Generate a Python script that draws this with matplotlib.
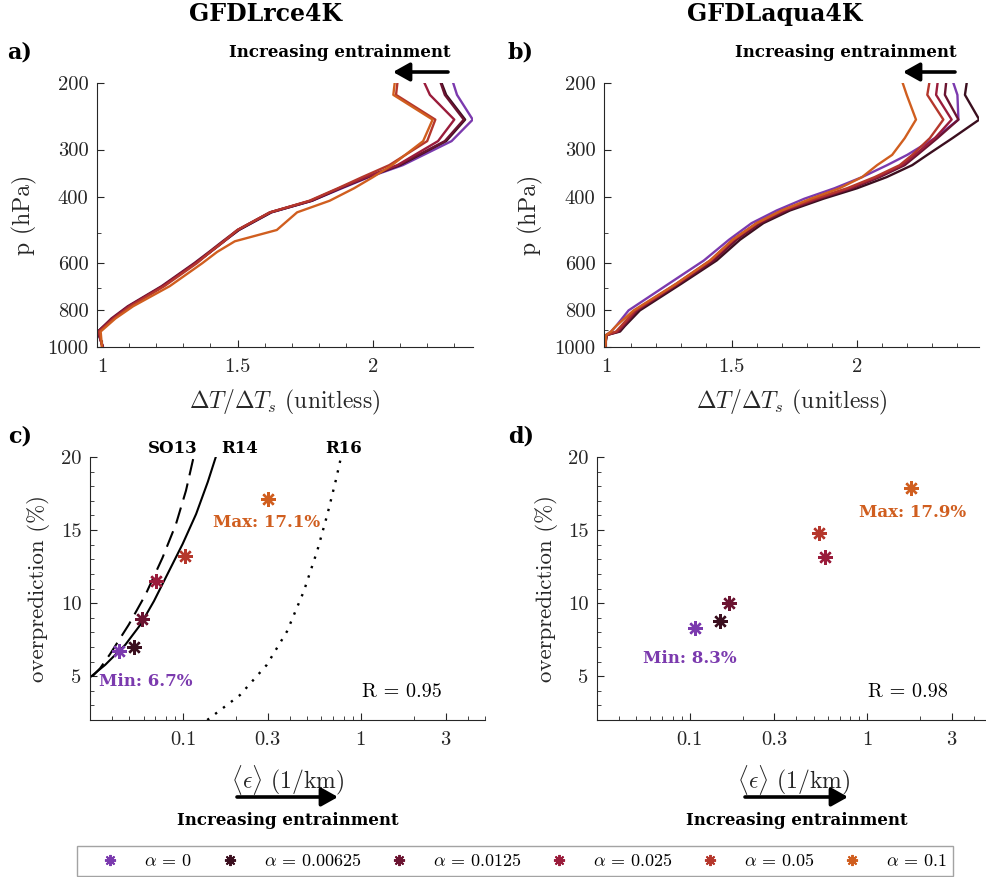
import matplotlib.pyplot as plt
from matplotlib.lines import Line2D
from matplotlib.ticker import FixedLocator, FixedFormatter, NullFormatter, MultipleLocator, LogLocator

# =========================
# Fonts
# =========================
plt.rcParams['font.family'] = 'serif'
plt.rcParams['font.serif'] = ['cmr10']
plt.rcParams['mathtext.fontset'] = 'cm'
plt.rcParams['axes.formatter.use_mathtext'] = True
plt.rcParams['axes.unicode_minus'] = False

W, H = 987, 877
AX_COLOR = '#262626'
BOLD = 'DejaVu Serif'

# =========================
# Data
# =========================
ALPHAS = ['0', '0.00625', '0.0125', '0.025', '0.05', '0.1']
COLORS = ['#7b3aae', '#3b0f1f', '#6b1431', '#9a1c3b', '#b5372c', '#d05e1f']

# panel a: GFDLrce4K profiles, dT/dTs vs pressure (hPa)
P_RCE = [200, 215, 250, 285, 330, 355, 380, 410, 440, 490, 525, 560, 600, 690, 780, 840, 910, 1000]
RCE_0 = [2.296, 2.31, 2.368, 2.29, 2.11, 1.985, 1.885, 1.775, 1.625, 1.505, 1.45, 1.40, 1.345, 1.225, 1.10, 1.04, 0.985, 1.003]
RCE_00625 = [2.253, 2.27, 2.34, 2.27, 2.10, 1.98, 1.88, 1.775, 1.625, 1.505, 1.45, 1.40, 1.345, 1.225, 1.10, 1.04, 0.985, 1.003]
RCE_0125 = [2.25, 2.265, 2.335, 2.265, 2.095, 1.975, 1.875, 1.77, 1.62, 1.50, 1.445, 1.395, 1.34, 1.22, 1.095, 1.035, 0.985, 1.003]
RCE_025 = [2.19, 2.21, 2.30, 2.24, 2.09, 1.975, 1.875, 1.77, 1.62, 1.50, 1.45, 1.40, 1.345, 1.225, 1.10, 1.04, 0.987, 1.003]
RCE_05 = [2.09, 2.085, 2.23, 2.20, 2.06, 1.96, 1.87, 1.765, 1.62, 1.50, 1.45, 1.40, 1.35, 1.23, 1.105, 1.045, 0.99, 1.0]
RCE_1 = [2.08, 2.075, 2.22, 2.185, 2.07, 2.00, 1.93, 1.84, 1.72, 1.645, 1.49, 1.425, 1.37, 1.25, 1.115, 1.05, 0.995, 1.0]

# panel b: GFDLaqua4K profiles
P_AQUA = [200, 215, 250, 280, 310, 330, 355, 380, 405, 435, 470, 520, 590, 680, 800, 880, 910, 930, 1000]
AQUA_0 = [2.384, 2.40, 2.404, 2.31, 2.20, 2.12, 2.02, 1.91, 1.79, 1.68, 1.58, 1.49, 1.39, 1.25, 1.09, 1.04, 1.02, 1.00, 0.998]
AQUA_00625 = [2.437, 2.43, 2.487, 2.38, 2.28, 2.22, 2.118, 2.0, 1.866, 1.733, 1.627, 1.534, 1.441, 1.30, 1.135, 1.075, 1.056, 1.003, 0.996]
AQUA_0125 = [2.355, 2.35, 2.404, 2.32, 2.24, 2.19, 2.09, 1.98, 1.85, 1.72, 1.615, 1.52, 1.43, 1.29, 1.125, 1.07, 1.05, 1.002, 0.996]
AQUA_025 = [2.321, 2.315, 2.377, 2.31, 2.23, 2.18, 2.08, 1.97, 1.84, 1.71, 1.605, 1.51, 1.42, 1.285, 1.12, 1.065, 1.045, 1.002, 0.996]
AQUA_05 = [2.288, 2.28, 2.344, 2.29, 2.22, 2.17, 2.07, 1.96, 1.83, 1.70, 1.60, 1.505, 1.415, 1.28, 1.115, 1.06, 1.04, 1.0, 0.997]
AQUA_1 = [2.182, 2.198, 2.235, 2.19, 2.14, 2.08, 2.02, 1.93, 1.815, 1.70, 1.60, 1.505, 1.415, 1.28, 1.11, 1.04, 1.02, 1.0, 0.997]

# panels c, d: mean entrainment (1/km) vs overprediction (%)
EPS_RCE = [0.0439, 0.0533, 0.0585, 0.0703, 0.1026, 0.30]
OVER_RCE = [6.7, 7.0, 8.9, 11.5, 13.2, 17.1]
EPS_AQUA = [0.107, 0.149, 0.166, 0.58, 0.537, 1.77]
OVER_AQUA = [8.3, 8.8, 10.0, 13.15, 14.8, 17.9]

# reference curves in panel c
R14_EPS = [0.0288, 0.0365, 0.0474, 0.0577, 0.0687, 0.0818, 0.0996, 0.1186, 0.138, 0.153]
R14_OVER = [4.74, 5.77, 7.15, 8.53, 10.14, 11.98, 14.05, 16.1, 18.3, 20.0]
SO13_EPS = [0.031, 0.0342, 0.039, 0.0496, 0.0617, 0.0767, 0.0913, 0.104, 0.1148]
SO13_OVER = [5.0, 5.54, 6.53, 8.53, 10.6, 13.1, 15.4, 17.7, 20.0]
R16_EPS = [0.137, 0.209, 0.296, 0.385, 0.478, 0.57, 0.65, 0.724, 0.775]
R16_OVER = [2.0, 3.7, 5.77, 8.07, 10.8, 13.6, 16.1, 18.4, 20.0]


def fx(px):
    return px / W


def fy(py):
    return 1 - py / H


def axes_rect(left, top, right, bottom):
    return [fx(left), fy(bottom), (right - left) / W, (bottom - top) / H]


def style_axes(ax):
    for s in ['top', 'right']:
        ax.spines[s].set_visible(False)
    for s in ['left', 'bottom']:
        ax.spines[s].set_color(AX_COLOR)
        ax.spines[s].set_linewidth(0.8)
    ax.tick_params(which='both', direction='in', colors=AX_COLOR, labelsize=14.8,
                   top=False, right=False)
    ax.tick_params(which='major', length=5, width=0.8)
    ax.tick_params(which='minor', length=3, width=0.6)
    ax.tick_params(axis='x', pad=8)
    ax.tick_params(axis='y', pad=6)
    ax.patch.set_visible(False)


def profile_panel(ax, p, profiles, xlim):
    for prof, col in zip(profiles, COLORS):
        ax.plot(prof, p, color=col, lw=1.7)
    ax.set_yscale('log')
    ax.set_ylim(1000, 200)
    ax.set_xlim(*xlim)
    ax.yaxis.set_major_locator(FixedLocator([200, 300, 400, 600, 800, 1000]))
    ax.yaxis.set_major_formatter(FixedFormatter(['200', '300', '400', '600', '800', '1000']))
    ax.yaxis.set_minor_locator(FixedLocator([500, 700, 900]))
    ax.yaxis.set_minor_formatter(NullFormatter())
    ax.xaxis.set_major_locator(FixedLocator([1, 1.5, 2]))
    ax.xaxis.set_major_formatter(FixedFormatter(['1', '1.5', '2']))
    ax.xaxis.set_minor_locator(MultipleLocator(0.1))
    style_axes(ax)
    ax.set_xlabel(r'$\Delta T/\Delta T_s$ (unitless)', fontsize=17, color=AX_COLOR)
    ax.set_ylabel('p (hPa)', fontsize=17, color=AX_COLOR)


def scatter_panel(ax, eps, over):
    for e, o, col in zip(eps, over, COLORS):
        ax.plot([e], [o], linestyle='none', marker=(8, 2, 0), markersize=10.5,
                markeredgewidth=1.7, color=col, zorder=4)
    ax.set_xscale('log')
    ax.set_xlim(0.03, 5)
    ax.set_ylim(2, 20)
    ax.xaxis.set_major_locator(FixedLocator([0.1, 0.3, 1, 3]))
    ax.xaxis.set_major_formatter(FixedFormatter(['0.1', '0.3', '1', '3']))
    ax.xaxis.set_minor_locator(LogLocator(base=10, subs=range(2, 10), numticks=20))
    ax.xaxis.set_minor_formatter(NullFormatter())
    ax.yaxis.set_major_locator(FixedLocator([5, 10, 15, 20]))
    ax.yaxis.set_major_formatter(FixedFormatter(['5', '10', '15', '20']))
    ax.yaxis.set_minor_locator(MultipleLocator(1))
    style_axes(ax)
    ax.set_xlabel(r'$\langle\epsilon\rangle$ (1/km)', fontsize=17, color=AX_COLOR)
    ax.set_ylabel('overprediction (%)', fontsize=16.5, color=AX_COLOR)


def bold_text(fig, px, py, s, size=12, color='black', ha='center', va='baseline'):
    fig.text(fx(px), fy(py), s, ha=ha, va=va, fontsize=size, fontweight='bold',
             family=BOLD, color=color)


def arrow(fig, tail, head):
    fig.add_artist(plt.Annotation(
        '', xy=(fx(head[0]), fy(head[1])), xytext=(fx(tail[0]), fy(tail[1])),
        xycoords='figure fraction', textcoords='figure fraction',
        arrowprops=dict(arrowstyle='-|>,head_length=0.5,head_width=0.28',
                        mutation_scale=20, lw=2.6, color='black',
                        shrinkA=0, shrinkB=0)))


def main():
    fig = plt.figure(figsize=(W / 100, H / 100), dpi=100)

    ax_a = fig.add_axes(axes_rect(97, 83, 473, 347))
    ax_b = fig.add_axes(axes_rect(604, 83, 979, 347))
    ax_c = fig.add_axes(axes_rect(90, 457, 485, 720))
    ax_d = fig.add_axes(axes_rect(597, 457, 991, 720))

    profile_panel(ax_a, P_RCE, [RCE_0, RCE_00625, RCE_0125, RCE_025, RCE_05, RCE_1], (0.9815, 2.369))
    profile_panel(ax_b, P_AQUA, [AQUA_0, AQUA_00625, AQUA_0125, AQUA_025, AQUA_05, AQUA_1], (0.992, 2.486))

    ax_c.plot(R14_EPS, R14_OVER, color='black', lw=1.5)
    ax_c.plot(SO13_EPS, SO13_OVER, color='black', lw=1.5, linestyle=(0, (8, 4)))
    ax_c.plot(R16_EPS, R16_OVER, color='black', lw=1.7, linestyle=(0, (1, 3.2)))
    scatter_panel(ax_c, EPS_RCE, OVER_RCE)
    scatter_panel(ax_d, EPS_AQUA, OVER_AQUA)

    # label placement
    ax_a.yaxis.set_label_coords(-0.16, 0.5)
    ax_b.yaxis.set_label_coords(-0.163, 0.5)
    ax_c.yaxis.set_label_coords(-0.1, 0.5)
    ax_d.yaxis.set_label_coords(-0.1, 0.5)
    ax_a.xaxis.set_label_coords(0.5, -0.155)
    ax_b.xaxis.set_label_coords(0.5, -0.155)
    ax_c.xaxis.set_label_coords(0.5, -0.163)
    ax_d.xaxis.set_label_coords(0.5, -0.163)

    # titles and panel letters
    bold_text(fig, 266, 14, 'GFDLrce4K', size=17, va='center')
    bold_text(fig, 775, 14, 'GFDLaqua4K', size=17, va='center')
    bold_text(fig, 7, 52, 'a)', size=16, ha='left', va='center')
    bold_text(fig, 508, 52, 'b)', size=16, ha='left', va='center')
    bold_text(fig, 8, 436, 'c)', size=16, ha='left', va='center')
    bold_text(fig, 508, 436, 'd)', size=16, ha='left', va='center')

    # entrainment arrows
    bold_text(fig, 340, 57, 'Increasing entrainment')
    bold_text(fig, 846, 57, 'Increasing entrainment')
    bold_text(fig, 288, 825, 'Increasing entrainment')
    bold_text(fig, 797, 825, 'Increasing entrainment')
    arrow(fig, (448, 72), (393, 72))
    arrow(fig, (955, 72), (903, 72))
    arrow(fig, (237, 797), (338, 797))
    arrow(fig, (745, 797), (848, 797))

    # curve names
    bold_text(fig, 173, 453, 'SO13')
    bold_text(fig, 240, 453, 'R14')
    bold_text(fig, 344, 453, 'R16')

    # min / max labels
    bold_text(fig, 267, 527, 'Max: 17.1%', color=COLORS[5])
    bold_text(fig, 146, 686, 'Min: 6.7%', color=COLORS[0])
    bold_text(fig, 913, 517, 'Max: 17.9%', color=COLORS[5])
    bold_text(fig, 690, 663, 'Min: 8.3%', color=COLORS[0])

    fig.text(fx(402), fy(697), 'R = 0.95', ha='center', va='baseline', fontsize=14.5)
    fig.text(fx(908), fy(697), 'R = 0.98', ha='center', va='baseline', fontsize=14.5)

    handles = [Line2D([], [], linestyle='none', marker=(8, 2, 0), markersize=8,
                      markeredgewidth=1.4, color=c) for c in COLORS]
    labels = [r'$\alpha\,=\,%s$' % a for a in ALPHAS]
    fig.legend(handles, labels, loc='center', bbox_to_anchor=(fx(515), fy(861)),
               ncol=6, fontsize=13, frameon=True, fancybox=False,
               edgecolor='#8c8c8c', handlelength=3.0, handletextpad=0.37,
               columnspacing=0.6, borderpad=0.35)

    fig.savefig('out.png', dpi=100)


if __name__ == '__main__':
    main()
